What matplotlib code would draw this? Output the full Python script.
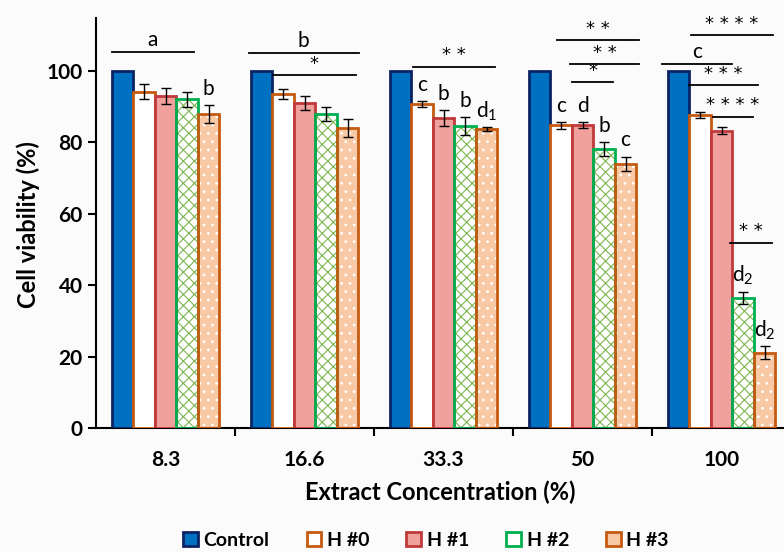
import numpy as np
import matplotlib.pyplot as plt
from matplotlib.patches import Patch

plt.rcParams['font.family'] = ['Lato', 'DejaVu Sans']
plt.rcParams['mathtext.default'] = 'regular'
plt.rcParams['hatch.linewidth'] = 0.8

# datos
concentraciones = ['8.3', '16.6', '33.3', '50', '100']
series = ['Control', 'H #0', 'H #1', 'H #2', 'H #3']
control = [100, 100, 100, 100, 100]
h0 = [94.2, 93.5, 90.8, 84.8, 87.6]
h1 = [93.0, 91.1, 86.8, 84.8, 83.3]
h2 = [92.0, 87.9, 84.6, 78.2, 36.5]
h3 = [88.0, 84.1, 83.7, 74.0, 21.1]
err_h0 = [2.0, 1.3, 0.8, 1.0, 0.8]
err_h1 = [2.3, 2.0, 2.3, 0.8, 1.0]
err_h2 = [2.0, 2.0, 2.6, 2.0, 1.7]
err_h3 = [2.5, 2.5, 0.6, 2.0, 1.8]

# letras sobre barras: (grupo, serie, texto)
letras = [(0, 4, 'b'),
          (2, 1, 'c'), (2, 2, 'b'), (2, 3, 'b'), (2, 4, 'd$_1$'),
          (3, 1, 'c'), (3, 2, 'd'), (3, 3, 'b'), (3, 4, 'c'),
          (4, 3, 'd$_2$'), (4, 4, 'd$_2$')]
# lineas de significancia: (x0, x1, y, texto)
lineas = [(-0.385, 0.205, 105.2, 'a'),
          (0.60, 1.39, 105.0, 'b'),
          (0.773, 1.37, 98.9, '*'),
          (1.78, 2.37, 101.2, '**'),
          (2.817, 3.406, 108.6, '**'),
          (2.91, 3.406, 101.9, '**'),
          (2.924, 3.22, 96.9, '*'),
          (3.78, 4.37, 110.1, '****'),
          (3.57, 4.076, 101.9, 'c'),
          (3.766, 4.26, 96.1, '***'),
          (3.94, 4.227, 87.2, '****'),
          (4.06, 4.363, 51.9, '**')]

valores = [control, h0, h1, h2, h3]
errores = [None, err_h0, err_h1, err_h2, err_h3]
relleno = ['#0070C0', 'white', '#F0A19E', 'white', '#F9C9A6']
borde = ['#0A2463', '#C55A11', '#C0393B', '#00B050', '#C55A11']
tramas = [None, None, None, 'xxx', '..']
color_trama = [None, None, None, '#7DB650', 'white']

fig = plt.figure(figsize=(7.84, 5.52), dpi=100, facecolor='#fbfbfb')
ax = fig.add_axes([96/784, 1-428/552, 695/784, 410/552])
ax.set_facecolor('#fbfbfb')

x = np.arange(len(concentraciones))
w = 0.155
for j in range(5):
    pos = x + (j - 2) * w
    if tramas[j]:
        ax.bar(pos, valores[j], w, color=relleno[j], edgecolor=color_trama[j],
               hatch=tramas[j], linewidth=0, zorder=2)
        ax.bar(pos, valores[j], w, color='none', edgecolor=borde[j], linewidth=2, zorder=3)
    else:
        ax.bar(pos, valores[j], w, color=relleno[j], edgecolor=borde[j], linewidth=2, zorder=3)
    if errores[j]:
        ax.errorbar(pos, valores[j], yerr=errores[j], fmt='none', ecolor='black',
                    elinewidth=1, capsize=3.5, capthick=1, zorder=4)

for g, s, txt in letras:
    top = valores[s][g] + errores[s][g]
    ax.text(g + (s - 2) * w, top + 4.5, txt, ha='center', va='center', fontsize=15)

for x0, x1, y, txt in lineas:
    ax.plot([x0, x1], [y, y], color='black', lw=1.3, zorder=5)
    if txt.startswith('*'):
        ax.text((x0 + x1) / 2, y + 0.6, ' '.join(txt), ha='center', va='bottom',
                fontsize=13, family='DejaVu Sans')
    else:
        ax.text((x0 + x1) / 2, y + 3.4, txt, ha='center', va='center', fontsize=15)

ax.set_xlim(-0.5, 4.5)
ax.set_ylim(0, 114.8)
ax.set_yticks([0, 20, 40, 60, 80, 100])
ax.set_xticks(x)
ax.set_xticklabels(concentraciones, fontsize=15, fontweight='bold')
ax.set_xticks(np.arange(0.5, 4.5, 1), minor=True)
ax.tick_params(axis='x', which='major', length=0, pad=16)
ax.tick_params(axis='x', which='minor', length=6, width=1.5, direction='out')
ax.tick_params(axis='y', length=6, width=1.5, direction='out', labelsize=15)
for lab in ax.get_yticklabels():
    lab.set_fontweight('bold')
ax.spines['top'].set_visible(False)
ax.spines['right'].set_visible(False)
ax.spines['left'].set_linewidth(1.5)
ax.spines['bottom'].set_linewidth(1.5)
fig.text(28/784, 1-225/552, 'Cell viability (%)', rotation=90, ha='center', va='center',
         fontsize=17, fontweight='bold')
fig.text(440/784, 1-492/552, 'Extract Concentration (%)', ha='center', va='center',
         fontsize=17, fontweight='bold')

handles = []
for j in range(5):
    handles.append(Patch(facecolor=relleno[j], edgecolor=borde[j], linewidth=2))
leg = fig.legend(handles, series, loc='center', bbox_to_anchor=(426/784, 1-540/552),
                 ncol=5, frameon=False, handlelength=0.75, handleheight=0.75,
                 handletextpad=0.3, columnspacing=1.9,
                 prop={'size': 14, 'weight': 'bold'})

fig.savefig('out.png', dpi=100, facecolor=fig.get_facecolor())
